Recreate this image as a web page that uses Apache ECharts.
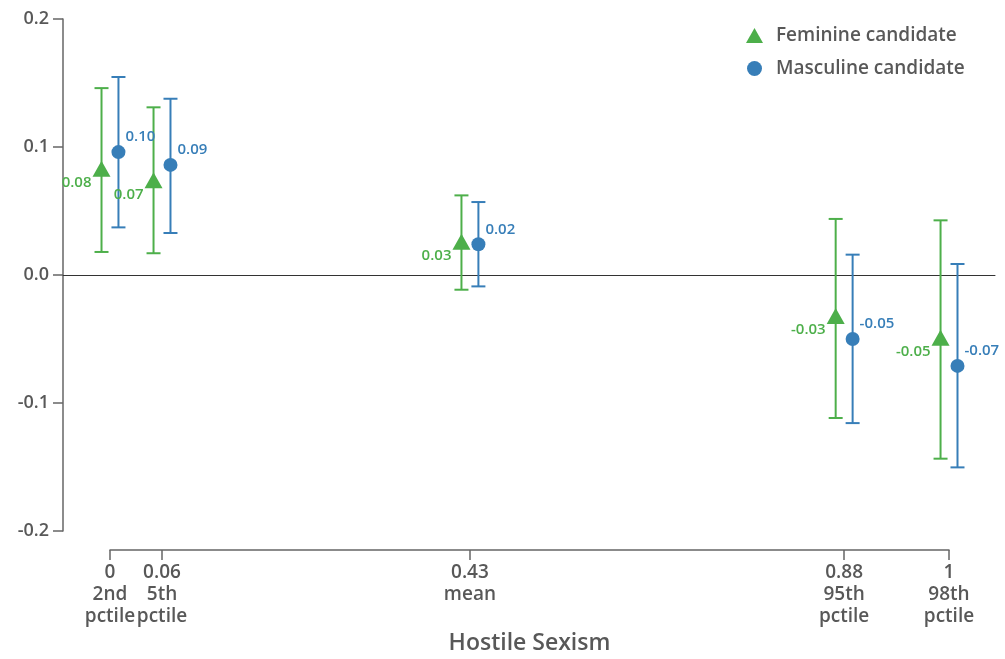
<!DOCTYPE html>
<html>
<head>
<meta charset="utf-8">
<style>
  html, body { margin: 0; padding: 0; background: #fff; }
  #chart { width: 1005px; height: 659px; }
</style>
<script src="https://cdn.jsdelivr.net/npm/echarts@6/dist/echarts.min.js"></script>
</head>
<body>
<div id="chart"></div>
<script>
// Hostile sexism levels (axis position) and their tick labels
const sexismLevels = [0, 0.062, 0.429, 0.875, 1];
const tickLabels = ['0\n2nd\npctile', '0.06\n5th\npctile', '0.43\nmean', '0.88\n95th\npctile', '1\n98th\npctile'];

// Estimated effect and 95% interval, feminine candidate
const femEstimate = [0.083, 0.074, 0.026, -0.032, -0.049];
const femLower = [0.018, 0.017, -0.0115, -0.1117, -0.1435];
const femUpper = [0.146, 0.131, 0.0622, 0.0438, 0.0427];

// Estimated effect and 95% interval, masculine candidate
const mascEstimate = [0.096, 0.086, 0.024, -0.050, -0.071];
const mascLower = [0.0372, 0.0328, -0.0089, -0.1157, -0.1503];
const mascUpper = [0.1547, 0.1377, 0.057, 0.0159, 0.0086];

const yTicks = [-0.2, -0.1, 0, 0.1, 0.2];

const GREEN = '#4daf4a';
const BLUE = '#377eb8';
const TEXT = '#585858';
const FONT = 'Open Sans';
const WEIGHT = 600;
const DODGE = 0.0101;

function points(est, dx) {
  return sexismLevels.map((x, i) => [x + dx, est[i]]);
}
function intervals(lo, hi, dx) {
  return sexismLevels.map((x, i) => [x + dx, lo[i], hi[i]]);
}

// Vertical interval with flat caps at both ends
function errorBar(color) {
  return function (params, api) {
    const x = api.value(0);
    const top = api.coord([x, api.value(2)]);
    const bot = api.coord([x, api.value(1)]);
    const half = 7;
    const style = { stroke: color, lineWidth: 2 };
    return {
      type: 'group',
      children: [
        { type: 'line', shape: { x1: top[0], y1: top[1], x2: bot[0], y2: bot[1] }, style },
        { type: 'line', shape: { x1: top[0] - half, y1: top[1], x2: top[0] + half, y2: top[1] }, style },
        { type: 'line', shape: { x1: bot[0] - half, y1: bot[1], x2: bot[0] + half, y2: bot[1] }, style }
      ]
    };
  };
}

const chart = echarts.init(document.getElementById('chart'), null, { renderer: 'canvas' });

chart.setOption({
  animation: false,
  textStyle: { fontFamily: FONT, fontWeight: WEIGHT },
  grid: [
    { left: 63, right: 10, top: 19, bottom: 128 },
    { left: 110, width: 839, top: 540, height: 10 }
  ],
  legend: {
    orient: 'vertical',
    left: 741,
    top: 21,
    itemGap: 14,
    itemWidth: 17,
    itemHeight: 15,
    data: [
      { name: 'Feminine candidate', icon: 'triangle' },
      { name: 'Masculine candidate', icon: 'circle' }
    ],
    textStyle: { color: TEXT, fontSize: 19, fontFamily: FONT, fontWeight: WEIGHT, padding: [0, 0, 0, 8] }
  },
  xAxis: [
    {
      type: 'value',
      gridIndex: 0,
      min: -0.056,
      max: 1.0548,
      axisLine: { show: true, onZero: true, lineStyle: { color: '#333', width: 1 } },
      axisTick: { show: false },
      axisLabel: { show: false },
      splitLine: { show: false }
    },
    {
      type: 'value',
      gridIndex: 1,
      min: 0,
      max: 1,
      position: 'bottom',
      name: 'Hostile Sexism',
      nameLocation: 'middle',
      nameGap: 82,
      nameTextStyle: { color: TEXT, fontSize: 23, fontFamily: FONT, fontWeight: WEIGHT },
      axisLine: { show: true, onZero: false, lineStyle: { color: '#666', width: 1.5 } },
      axisTick: { show: true, length: 10, lineStyle: { color: '#666', width: 1.5 }, customValues: sexismLevels },
      axisLabel: {
        show: true,
        customValues: sexismLevels,
        margin: 12,
        color: TEXT,
        fontSize: 19,
        lineHeight: 22,
        fontFamily: FONT,
        fontWeight: WEIGHT,
        formatter: function (v) {
          const i = sexismLevels.indexOf(v);
          return i >= 0 ? tickLabels[i] : '';
        }
      },
      splitLine: { show: false }
    }
  ],
  yAxis: [
    {
      type: 'value',
      gridIndex: 0,
      min: yTicks[0],
      max: yTicks[yTicks.length - 1],
      interval: 0.1,
      axisLine: { show: true, onZero: false, lineStyle: { color: '#666', width: 1.5 } },
      axisTick: { show: true, length: 10, lineStyle: { color: '#666', width: 1.5 } },
      axisLabel: {
        margin: 14,
        color: TEXT,
        fontSize: 18,
        fontFamily: FONT,
        fontWeight: WEIGHT,
        formatter: v => v.toFixed(1)
      },
      splitLine: { show: false }
    },
    { type: 'value', gridIndex: 1, show: false }
  ],
  series: [
    {
      type: 'custom',
      name: 'Feminine candidate',
      xAxisIndex: 0, yAxisIndex: 0,
      renderItem: errorBar(GREEN),
      itemStyle: { color: GREEN },
      data: intervals(femLower, femUpper, -DODGE),
      z: 2
    },
    {
      type: 'custom',
      name: 'Masculine candidate',
      xAxisIndex: 0, yAxisIndex: 0,
      renderItem: errorBar(BLUE),
      itemStyle: { color: BLUE },
      data: intervals(mascLower, mascUpper, DODGE),
      z: 2
    },
    {
      type: 'scatter',
      name: 'Feminine candidate',
      xAxisIndex: 0, yAxisIndex: 0,
      symbol: 'triangle',
      symbolSize: [18, 16],
      itemStyle: { color: GREEN, opacity: 1 },
      data: points(femEstimate, -DODGE),
      label: {
        show: true,
        position: 'left',
        distance: 1,
        offset: [0, 14],
        color: GREEN,
        fontSize: 15,
        fontFamily: FONT,
        fontWeight: WEIGHT,
        formatter: p => p.value[1].toFixed(2)
      },
      z: 3
    },
    {
      type: 'scatter',
      name: 'Masculine candidate',
      xAxisIndex: 0, yAxisIndex: 0,
      symbol: 'circle',
      symbolSize: 14,
      itemStyle: { color: BLUE, opacity: 1 },
      data: points(mascEstimate, DODGE),
      label: {
        show: true,
        position: 'right',
        distance: 0,
        offset: [0, -15],
        color: BLUE,
        fontSize: 15,
        fontFamily: FONT,
        fontWeight: WEIGHT,
        formatter: p => p.value[1].toFixed(2)
      },
      z: 3
    }
  ]
});
</script>
</body>
</html>
